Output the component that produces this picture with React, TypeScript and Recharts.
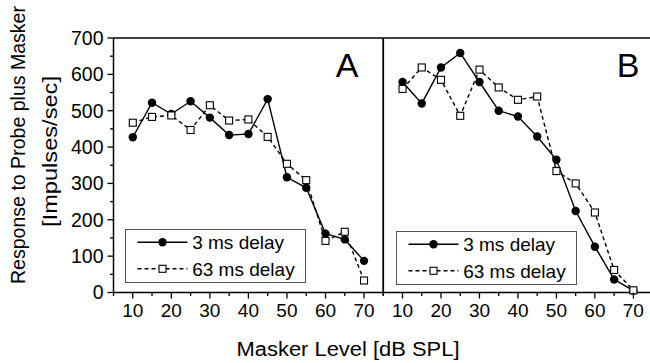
import React from 'react';
import { LineChart, Line, XAxis, YAxis, Legend } from 'recharts';

// ---- data ----
const levels = [10, 15, 20, 25, 30, 35, 40, 45, 50, 55, 60, 65, 70];
const panelA_3ms = [427, 522, 491, 526, 481, 433, 436, 532, 317, 288, 162, 146, 87];
const panelA_63ms = [467, 483, 487, 447, 515, 473, 476, 428, 354, 309, 142, 167, 33];
const panelB_3ms = [579, 520, 619, 659, 579, 500, 484, 429, 365, 224, 126, 36, 5];
const panelB_63ms = [560, 619, 585, 486, 613, 564, 530, 539, 334, 300, 220, 62, 6];
const xTicks = [5, 10, 15, 20, 25, 30, 35, 40, 45, 50, 55, 60, 65, 70, 75];
const yTicks = [0, 50, 100, 150, 200, 250, 300, 350, 400, 450, 500, 550, 600, 650, 700];
const seriesNames = ['3 ms delay', '63 ms delay'];
const panelLabels = ['A', 'B'];
const xLabel = 'Masker Level [dB SPL]';
const yLabelLines = ['Response to Probe plus Masker', '[Impulses/sec]'];

const buildRows = (a: number[], b: number[]) =>
  levels.map((x, i) => ({ x, s3: a[i], s63: b[i] }));
const dataA = buildRows(panelA_3ms, panelA_63ms);
const dataB = buildRows(panelB_3ms, panelB_63ms);

const FONT = '"Liberation Sans", Arial, Helvetica, sans-serif';
const AX = 1.5;

const XTick = (props: any) => {
  const { x, y, payload } = props;
  const v = payload.value;
  const major = v % 10 === 0 && v <= 70 && v >= 10;
  return (
    <g>
      <line x1={x} x2={x} y1={y} y2={y + (major ? 6 : 3.5)} stroke="#000" strokeWidth={1.3} />
      {major && (
        <text x={x} y={y + 24} textAnchor="middle" fontSize={19} fontFamily={FONT} fill="#000">
          {v}
        </text>
      )}
    </g>
  );
};

const YTickLeft = (props: any) => {
  const { x, y, payload } = props;
  const v = payload.value;
  const major = v % 100 === 0;
  return (
    <g>
      <line x1={x - (major ? 6 : 3.5)} x2={x} y1={y} y2={y} stroke="#000" strokeWidth={1.3} />
      {major && (
        <text x={x - 10} y={y + 6.8} textAnchor="end" fontSize={19.5} fontFamily={FONT} fill="#000">
          {v}
        </text>
      )}
    </g>
  );
};

const YTickRight = (props: any) => {
  const { x, y } = props;
  return <line x1={x - 4} x2={x} y1={y} y2={y} stroke="#000" strokeWidth={1.3} />;
};

const SquareDot = (props: any) => {
  const { cx, cy, index } = props;
  if (cx == null || cy == null) return <g key={`sq-${index}`} />;
  return (
    <rect key={`sq-${index}`} x={cx - 3.5} y={cy - 3.5} width={7} height={7} fill="#fff" stroke="#000" strokeWidth={1.1} />
  );
};

const CircleDot = (props: any) => {
  const { cx, cy, index } = props;
  if (cx == null || cy == null) return <g key={`ci-${index}`} />;
  return <circle key={`ci-${index}`} cx={cx} cy={cy} r={4.2} fill="#000" />;
};

const LegendBox = () => (
  <div
    style={{
      width: 181,
      height: 54,
      border: '1.5px solid #555',
      background: '#fff',
      boxSizing: 'border-box',
      position: 'relative',
    }}
  >
    <svg width={178} height={51} style={{ position: 'absolute', left: 0, top: 0 }}>
      <line x1={11.5} x2={61.5} y1={12.2} y2={12.2} stroke="#000" strokeWidth={1.4} />
      <circle cx={36.5} cy={12.2} r={4.2} fill="#000" />
      <text x={66.2} y={19} fontSize={19} fontFamily={FONT} fill="#000">
        {seriesNames[0]}
      </text>
      <line x1={11.5} x2={61.5} y1={38.8} y2={38.8} stroke="#000" strokeWidth={1.4} strokeDasharray="4 3" />
      <rect x={33} y={35.3} width={7} height={7} fill="#fff" stroke="#000" strokeWidth={1.1} />
      <text x={66.2} y={45.6} fontSize={19} fontFamily={FONT} fill="#000">
        {seriesNames[1]}
      </text>
    </svg>
  </div>
);

const XLabel = () => (
  <text
    x={348}
    y={356}
    textAnchor="middle"
    fontSize={19.5}
    fontFamily={FONT}
    fill="#000"
    textLength={223}
    lengthAdjust="spacingAndGlyphs"
  >
    {xLabel}
  </text>
);

const YLabel = () => (
  <g>
    <text
      transform="translate(25,145) rotate(-90)"
      textAnchor="middle"
      fontSize={19.5}
      fontFamily={FONT}
      fill="#000"
      textLength={278}
      lengthAdjust="spacingAndGlyphs"
    >
      {yLabelLines[0]}
    </text>
    <text
      transform="translate(56.5,151.5) rotate(-90)"
      textAnchor="middle"
      fontSize={19.5}
      fontFamily={FONT}
      fill="#000"
      textLength={151}
      lengthAdjust="spacingAndGlyphs"
    >
      {yLabelLines[1]}
    </text>
  </g>
);

const PanelLetter = ({ x, text }: { x: number; text: string }) => (
  <text x={x} y={77} textAnchor="middle" fontSize={34} fontFamily={FONT} fill="#000">
    {text}
  </text>
);

export default function App() {
  return (
    <div
      style={{
        position: 'absolute',
        left: 0,
        top: 0,
        width: 650,
        height: 363,
        overflow: 'hidden',
        background: '#fff',
      }}
    >
      {/* Panel A */}
      <div style={{ position: 'absolute', left: 0, top: 0 }}>
        <LineChart width={650} height={363} data={dataA} margin={{ top: 37, right: 265.7, bottom: 40.5, left: 0 }}>
          <XAxis
            dataKey="x"
            type="number"
            domain={[5, 75]}
            ticks={xTicks}
            interval={0}
            height={30}
            tickSize={0}
            tickMargin={0}
            tickLine={false}
            axisLine={{ stroke: '#000', strokeWidth: AX }}
            tick={<XTick />}
            label={<XLabel />}
          />
          <XAxis
            xAxisId="top"
            dataKey="x"
            type="number"
            orientation="top"
            domain={[5, 75]}
            height={1}
            tick={false}
            tickLine={false}
            axisLine={{ stroke: '#000', strokeWidth: AX }}
          />
          <YAxis
            yAxisId="l"
            type="number"
            domain={[0, 700]}
            ticks={yTicks}
            interval={0}
            width={113.5}
            tickSize={0}
            tickMargin={0}
            tickLine={false}
            axisLine={{ stroke: '#000', strokeWidth: AX }}
            tick={<YTickLeft />}
            label={<YLabel />}
          />
          <YAxis
            yAxisId="r"
            orientation="right"
            type="number"
            domain={[0, 700]}
            ticks={yTicks}
            interval={0}
            width={1}
            tickSize={0}
            tickMargin={0}
            tickLine={false}
            axisLine={{ stroke: '#000', strokeWidth: AX }}
            tick={<YTickRight />}
          />
          <Legend
            layout="vertical"
            align="center"
            verticalAlign="middle"
            content={<LegendBox />}
            wrapperStyle={{ left: 125, top: 229, width: 181, height: 54 }}
          />
          <Line
            yAxisId="l"
            dataKey="s3"
            name={seriesNames[0]}
            stroke="#000"
            strokeWidth={1.4}
            dot={<CircleDot />}
            activeDot={false}
            isAnimationActive={false}
          />
          <Line
            yAxisId="l"
            dataKey="s63"
            name={seriesNames[1]}
            stroke="#000"
            strokeWidth={1.4}
            strokeDasharray="4 3"
            dot={<SquareDot />}
            activeDot={false}
            isAnimationActive={false}
          />
          <PanelLetter x={347} text={panelLabels[0]} />
        </LineChart>
      </div>
      {/* Panel B */}
      <div style={{ position: 'absolute', left: 380, top: 0 }}>
        <LineChart width={280} height={363} data={dataB} margin={{ top: 37, right: 7.4, bottom: 40.5, left: 2.3 }}>
          <XAxis
            dataKey="x"
            type="number"
            domain={[5, 75]}
            ticks={xTicks}
            interval={0}
            height={30}
            tickSize={0}
            tickMargin={0}
            tickLine={false}
            axisLine={{ stroke: '#000', strokeWidth: AX }}
            tick={<XTick />}
          />
          <XAxis
            xAxisId="top"
            dataKey="x"
            type="number"
            orientation="top"
            domain={[5, 75]}
            height={1}
            tick={false}
            tickLine={false}
            axisLine={{ stroke: '#000', strokeWidth: AX }}
          />
          <YAxis
            yAxisId="l"
            type="number"
            domain={[0, 700]}
            ticks={yTicks}
            width={1}
            tick={false}
            tickLine={false}
            axisLine={{ stroke: '#000', strokeWidth: AX }}
          />
          <Legend
            layout="vertical"
            align="center"
            verticalAlign="middle"
            content={<LegendBox />}
            wrapperStyle={{ left: 15.7, top: 231, width: 181, height: 54 }}
          />
          <Line
            yAxisId="l"
            dataKey="s3"
            name={seriesNames[0]}
            stroke="#000"
            strokeWidth={1.4}
            dot={<CircleDot />}
            activeDot={false}
            isAnimationActive={false}
          />
          <Line
            yAxisId="l"
            dataKey="s63"
            name={seriesNames[1]}
            stroke="#000"
            strokeWidth={1.4}
            strokeDasharray="4 3"
            dot={<SquareDot />}
            activeDot={false}
            isAnimationActive={false}
          />
          <PanelLetter x={248} text={panelLabels[1]} />
        </LineChart>
      </div>
    </div>
  );
}
